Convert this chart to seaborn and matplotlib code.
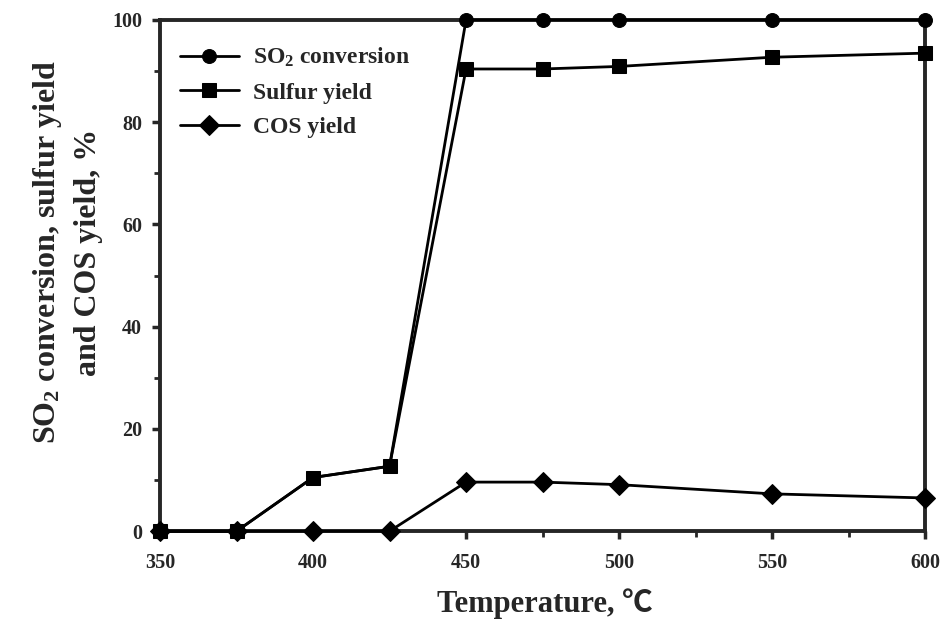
import numpy as np
import pandas as pd
import matplotlib
matplotlib.use("Agg")
import matplotlib.pyplot as plt
from matplotlib.ticker import MultipleLocator
import seaborn as sns

temperature = [350, 375, 400, 425, 450, 475, 500, 550, 600]
so2_conversion = [0, 0, 10.5, 12.7, 100, 100, 100, 100, 100]
sulfur_yield = [0, 0, 10.5, 12.7, 90.4, 90.4, 90.9, 92.7, 93.5]
cos_yield = [0, 0, 0, 0, 9.6, 9.6, 9.1, 7.3, 6.5]
series_names = ["SO$_2$ conversion", "Sulfur yield", "COS yield"]

df = pd.DataFrame({
    "temperature": temperature * 3,
    "value": so2_conversion + sulfur_yield + cos_yield,
    "series": np.repeat(series_names, len(temperature)),
})

sns.set_theme(style="ticks")
plt.rcParams["font.family"] = ["Liberation Serif", "Noto Sans CJK KR"]
plt.rcParams["font.weight"] = "bold"
plt.rcParams["mathtext.fontset"] = "custom"
plt.rcParams["mathtext.default"] = "bf"
plt.rcParams["mathtext.bf"] = "Liberation Serif:bold"
plt.rcParams["mathtext.rm"] = "Liberation Serif:bold"

fig = plt.figure(figsize=(9.43, 6.22), dpi=100)
ax = fig.add_axes([0.1697, 0.146, 0.8113, 0.822])

sns.lineplot(data=df, x="temperature", y="value", hue="series", style="series",
             hue_order=series_names, style_order=series_names,
             palette=["black"] * 3, markers=["o", "s", "D"], dashes=False,
             markersize=10, linewidth=2, markeredgecolor="black", ax=ax)
for line in ax.lines:
    line.set_clip_on(False)
    line.set_zorder(5)

ax.set_xlim(350, 600)
ax.set_ylim(0, 100)
ax.xaxis.set_major_locator(MultipleLocator(50))
ax.xaxis.set_minor_locator(MultipleLocator(25))
ax.yaxis.set_major_locator(MultipleLocator(20))
ax.yaxis.set_minor_locator(MultipleLocator(10))
ax.tick_params(which="major", direction="out", length=6, width=2.5, labelsize=14.5)
ax.tick_params(axis="y", which="major", pad=7)
ax.tick_params(axis="x", which="major", pad=10)
ax.tick_params(which="minor", direction="out", length=4, width=2)
for lab in ax.get_xticklabels() + ax.get_yticklabels():
    lab.set_fontweight("bold")
for sp in ax.spines.values():
    sp.set_linewidth(2.8)
    sp.set_visible(True)

ax.set_xlabel("Temperature, \u2103", fontsize=22, fontweight="bold")
ax.xaxis.set_label_coords(0.503, -0.112)
ax.set_ylabel("SO$_2$ conversion, sulfur yield\nand COS yield, %", fontsize=23,
              fontweight="bold", linespacing=1.45)
ax.yaxis.set_label_coords(-0.075, 0.546)

leg = ax.legend(loc="upper left", frameon=False, fontsize=17, handlelength=2.5,
                bbox_to_anchor=(-0.008, 1.0), borderaxespad=0.7, labelspacing=0.55,
                handletextpad=0.6)
for t in leg.get_texts():
    t.set_fontweight("bold")

fig.savefig("out.png", dpi=100)
